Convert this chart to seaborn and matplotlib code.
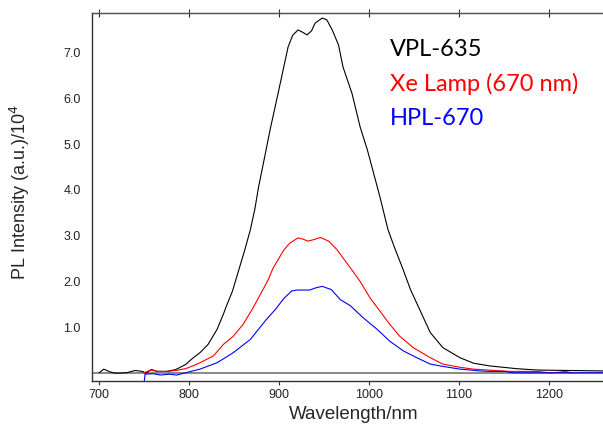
import pandas as pd
import matplotlib.pyplot as plt
import seaborn as sns

# --- Data (wavelength in nm, intensity in 1e4 a.u.) ---
vpl_wl = [700, 705, 712, 718, 730, 740, 748, 752, 758, 765, 775, 785, 796, 804,
          812, 821, 831, 838, 841, 848, 855, 862, 868, 873, 877, 884, 890, 899,
          910, 915, 921, 926, 931, 936, 940, 948, 953, 959, 966, 971, 981, 990,
          998, 1004, 1012, 1021, 1029, 1037, 1046, 1057, 1068, 1082, 1101, 1116,
          1134, 1164, 1187, 1260]
vpl_int = [0.0, 0.08, 0.02, -0.01, 0.0, 0.05, 0.03, -0.01, 0.07, 0.03, 0.03,
           0.07, 0.18, 0.32, 0.44, 0.62, 0.95, 1.28, 1.44, 1.78, 2.24, 2.70,
           3.13, 3.58, 4.05, 4.73, 5.32, 6.13, 7.13, 7.38, 7.50, 7.45, 7.39,
           7.48, 7.65, 7.76, 7.72, 7.50, 7.17, 6.69, 6.11, 5.38, 4.88, 4.44,
           3.85, 3.13, 2.70, 2.30, 1.82, 1.35, 0.88, 0.55, 0.33, 0.21, 0.15,
           0.09, 0.06, 0.04]

xe_wl = [750, 757, 765, 775, 785, 796, 804, 812, 827, 838, 849, 860, 871, 882,
         888, 893, 899, 905, 912, 921, 927, 932, 938, 946, 955, 964, 979, 990,
         1001, 1012, 1023, 1034, 1049, 1068, 1082, 1101, 1116, 1156, 1187, 1201,
         1210, 1218, 1225]
xe_int = [0.0, 0.06, 0.03, 0.03, 0.05, 0.09, 0.15, 0.22, 0.37, 0.62, 0.80,
          1.06, 1.42, 1.82, 2.04, 2.28, 2.48, 2.68, 2.84, 2.95, 2.92, 2.88,
          2.91, 2.96, 2.88, 2.70, 2.30, 2.00, 1.64, 1.35, 1.06, 0.80, 0.55,
          0.33, 0.19, 0.12, 0.08, 0.03, 0.03, 0.0, 0.01, 0.03, 0.0]

hpl_wl = [750, 751, 760, 768, 778, 786, 796, 804, 812, 831, 849, 868, 886, 896,
          905, 914, 920, 934, 941, 948, 958, 968, 979, 993, 1009, 1023, 1038,
          1053, 1068, 1082, 1101, 1124, 1134, 1151, 1160, 1260]
hpl_int = [-0.2, -0.03, -0.02, -0.05, -0.03, -0.05, 0.0, 0.04, 0.08, 0.22,
           0.44, 0.73, 1.17, 1.39, 1.62, 1.79, 1.81, 1.81, 1.86, 1.89, 1.82,
           1.60, 1.47, 1.21, 0.95, 0.69, 0.48, 0.33, 0.19, 0.14, 0.08, 0.04,
           0.03, 0.03, 0.0, 0.0]

labels = ["VPL-635", "Xe Lamp (670 nm)", "HPL-670"]
colors = ["#000000", "#ff0000", "#0000ff"]
y_ticks = [1, 2, 3, 4, 5, 6, 7]
x_ticks = [700, 800, 900, 1000, 1100, 1200]

df = pd.concat([
    pd.DataFrame({"wl": vpl_wl, "I": vpl_int, "src": labels[0]}),
    pd.DataFrame({"wl": xe_wl, "I": xe_int, "src": labels[1]}),
    pd.DataFrame({"wl": hpl_wl, "I": hpl_int, "src": labels[2]}),
], ignore_index=True)

# --- Style ---
sns.set_style("white")
plt.rcParams["font.family"] = ["Liberation Sans", "DejaVu Sans"]

fig = plt.figure(figsize=(6.03, 4.26), dpi=100)
ax = fig.add_axes([0.1526, 0.1056, 0.8474, 0.8639])

ax.axhline(0, color="#808080", lw=1.3, zorder=1)
sns.lineplot(data=df, x="wl", y="I", hue="src", palette=dict(zip(labels, colors)),
             estimator=None, sort=False, lw=0.8, legend=False, ax=ax, zorder=2)

ax.set_xlim(692, 1260)
ax.set_ylim(-0.18, 7.87)
ax.set_xticks(x_ticks)
ax.set_yticks(y_ticks)
ax.set_yticklabels([f"{v:.1f}" for v in y_ticks])
ax.tick_params(axis="x", which="both", bottom=True, top=True, direction="out",
               length=3, width=0.8, color="#333333", labelsize=9, pad=3)
ax.tick_params(axis="y", length=0, labelsize=9, pad=8)
ax.secondary_xaxis("top").tick_params(direction="in", length=3, labeltop=False)
for lbl in ax.get_xticklabels() + ax.get_yticklabels():
    lbl.set_color("#222222")

for side in ["left", "bottom"]:
    ax.spines[side].set_color("#333333")
    ax.spines[side].set_linewidth(1.0)
ax.spines["top"].set_color("#555555")
ax.spines["top"].set_linewidth(1.0)
ax.spines["right"].set_visible(False)

ax.set_xlabel("Wavelength/nm", fontsize=13.5)
ax.xaxis.label.set_va("baseline")
ax.xaxis.set_label_coords(0.513, -0.104)
ax.set_ylabel("PL Intensity (a.u.)/10$^4$", fontsize=13)
ax.yaxis.set_label_coords(-0.117, 0.514)

# legend written as coloured text
for i, (lab, col) in enumerate(zip(labels, colors)):
    ax.text(0.583, 0.9 - i * 0.094, lab, color=col, fontsize=17,
            family=["Lato", "DejaVu Sans"], transform=ax.transAxes,
            ha="left", va="center")

fig.savefig("out.png", dpi=100)
